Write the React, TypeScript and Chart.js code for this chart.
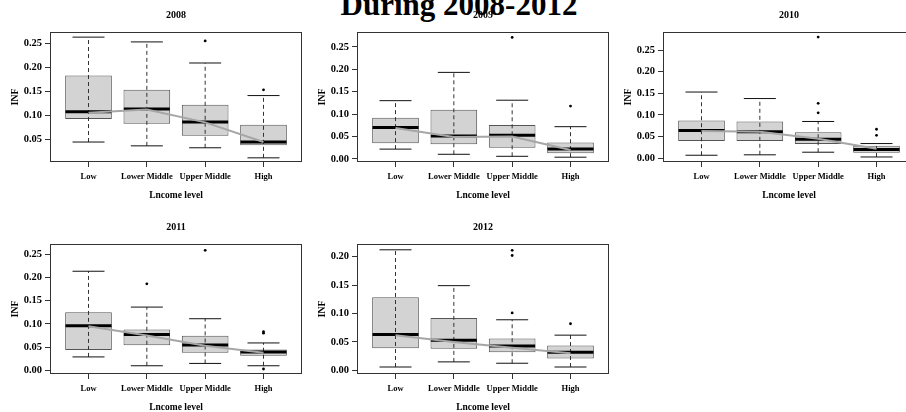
import React, { useEffect, useRef } from "react";
import { Chart, registerables } from "chart.js";
Chart.register(...registerables);

const FONT = "'Liberation Serif', 'Times New Roman', serif";

const categories = ["Low", "Lower Middle", "Upper Middle", "High"];
const mainTitle = "During 2008-2012";
const xTitle = "Lncome level";
const yTitle = "INF";

// 2008
const whiskerLow2008 = [0.044, 0.036, 0.032, 0.011];
const q1_2008 = [0.092, 0.082, 0.057, 0.0375];
const median2008 = [0.107, 0.113, 0.086, 0.044];
const q3_2008 = [0.183, 0.153, 0.122, 0.08];
const whiskerHigh2008 = [0.263, 0.253, 0.209, 0.141];
const trend2008 = [0.105, 0.112, 0.085, 0.044];
const outliers2008 = [[3, 0.255], [4, 0.153]];
const yTicks2008 = [0.05, 0.1, 0.15, 0.2, 0.25];

// 2009
const whiskerLow2009 = [0.022, 0.0105, 0.006, 0.004];
const q1_2009 = [0.035, 0.033, 0.025, 0.013];
const median2009 = [0.07, 0.051, 0.053, 0.022];
const q3_2009 = [0.092, 0.11, 0.076, 0.037];
const whiskerHigh2009 = [0.13, 0.193, 0.131, 0.072];
const trend2009 = [0.069, 0.049, 0.05, 0.02];
const outliers2009 = [[3, 0.271], [4, 0.118]];
const yTicks2009 = [0, 0.05, 0.1, 0.15, 0.2, 0.25];

// 2010
const whiskerLow2010 = [0.007, 0.008, 0.014, 0.003];
const q1_2010 = [0.04, 0.04, 0.033, 0.013];
const median2010 = [0.064, 0.061, 0.044, 0.02];
const q3_2010 = [0.0875, 0.085, 0.06, 0.029];
const whiskerHigh2010 = [0.153, 0.138, 0.085, 0.034];
const trend2010 = [0.063, 0.061, 0.045, 0.022];
const outliers2010 = [[3, 0.28], [3, 0.127], [3, 0.105], [4, 0.067], [4, 0.053]];
const yTicks2010 = [0, 0.05, 0.1, 0.15, 0.2, 0.25];

// 2011
const whiskerLow2011 = [0.029, 0.01, 0.015, 0.01];
const q1_2011 = [0.044, 0.054, 0.038, 0.0315];
const median2011 = [0.096, 0.077, 0.0545, 0.0395];
const q3_2011 = [0.125, 0.088, 0.0745, 0.045];
const whiskerHigh2011 = [0.213, 0.136, 0.111, 0.059];
const trend2011 = [0.095, 0.075, 0.053, 0.038];
const outliers2011 = [[2, 0.186], [3, 0.258], [4, 0.083], [4, 0.08], [4, 0.003]];
const yTicks2011 = [0, 0.05, 0.1, 0.15, 0.2, 0.25];

// 2012
const whiskerLow2012 = [0.006, 0.015, 0.0126, 0.006];
const q1_2012 = [0.039, 0.038, 0.032, 0.021];
const median2012 = [0.063, 0.053, 0.043, 0.032];
const q3_2012 = [0.1285, 0.092, 0.056, 0.044];
const whiskerHigh2012 = [0.212, 0.149, 0.089, 0.062];
const trend2012 = [0.062, 0.05, 0.04, 0.03];
const outliers2012 = [[3, 0.211], [3, 0.202], [3, 0.101], [4, 0.082]];
const yTicks2012 = [0, 0.05, 0.1, 0.15, 0.2];

type Panel = {
  year: string;
  lo: number[]; q1: number[]; med: number[]; q3: number[]; hi: number[];
  trend: number[]; outliers: number[][]; yTicks: number[];
  yMin: number; yMax: number; left: number; top: number;
};

const panels: Panel[] = [
  { year: "2008", lo: whiskerLow2008, q1: q1_2008, med: median2008, q3: q3_2008, hi: whiskerHigh2008, trend: trend2008, outliers: outliers2008, yTicks: yTicks2008, yMin: 0.0023, yMax: 0.2737, left: 0, top: 0 },
  { year: "2009", lo: whiskerLow2009, q1: q1_2009, med: median2009, q3: q3_2009, hi: whiskerHigh2009, trend: trend2009, outliers: outliers2009, yTicks: yTicks2009, yMin: -0.0067, yMax: 0.283, left: 307, top: 0 },
  { year: "2010", lo: whiskerLow2010, q1: q1_2010, med: median2010, q3: q3_2010, hi: whiskerHigh2010, trend: trend2010, outliers: outliers2010, yTicks: yTicks2010, yMin: -0.0086, yMax: 0.2917, left: 613, top: 0 },
  { year: "2011", lo: whiskerLow2011, q1: q1_2011, med: median2011, q3: q3_2011, hi: whiskerHigh2011, trend: trend2011, outliers: outliers2011, yTicks: yTicks2011, yMin: -0.0077, yMax: 0.2715, left: 0, top: 212 },
  { year: "2012", lo: whiskerLow2012, q1: q1_2012, med: median2012, q3: q3_2012, hi: whiskerHigh2012, trend: trend2012, outliers: outliers2012, yTicks: yTicks2012, yMin: -0.0063, yMax: 0.2222, left: 307, top: 212 },
];

const framePlugin = {
  id: "frame",
  afterDatasetsDraw(chart: any) {
    const { ctx, chartArea: a } = chart;
    ctx.save();
    ctx.strokeStyle = "#333";
    ctx.lineWidth = 1;
    ctx.strokeRect(Math.round(a.left) + 0.5, Math.round(a.top) + 0.5, Math.round(a.right - a.left) - 1, Math.round(a.bottom - a.top) - 1);
    ctx.restore();
  },
};

function PanelChart({ p }: { p: Panel }) {
  const ref = useRef<HTMLCanvasElement>(null);
  useEffect(() => {
    const xs = categories.map((_, i) => i + 1);
    const whiskers: any[] = [];
    xs.forEach((x, i) => {
      whiskers.push({ x, y: p.lo[i] }, { x, y: p.hi[i] }, { x, y: null });
    });
    const caps: any[] = [];
    xs.forEach((x, i) => {
      caps.push({ x, y: p.lo[i] }, { x, y: p.hi[i] });
    });
    const chart = new Chart(ref.current!, {
      type: "bar",
      data: {
        datasets: [
          {
            type: "bar",
            data: xs.map((x, i) => ({ x, y: [p.q1[i], p.q3[i]] })) as any,
            backgroundColor: "#d3d3d3",
            borderColor: "#555",
            borderWidth: 1,
            borderSkipped: false,
            barPercentage: 0.8,
            categoryPercentage: 1,
            order: 10,
          } as any,
          {
            type: "line",
            data: whiskers,
            borderColor: "#333",
            borderWidth: 1,
            borderDash: [4, 3],
            pointRadius: 0,
            spanGaps: false,
            fill: false,
            order: 8,
          } as any,
          {
            type: "line",
            data: caps,
            showLine: false,
            pointStyle: "line",
            pointRadius: 16,
            pointBorderWidth: 1,
            pointBorderColor: "#111",
            order: 7,
          } as any,
          {
            type: "line",
            data: xs.map((x, i) => ({ x, y: p.med[i] })),
            showLine: false,
            pointStyle: "line",
            pointRadius: 23,
            pointBorderWidth: 3,
            pointBorderColor: "#000",
            order: 5,
          } as any,
          {
            type: "line",
            data: xs.map((x, i) => ({ x, y: p.trend[i] })),
            borderColor: "#a6a6a6",
            borderWidth: 2,
            pointRadius: 0,
            fill: false,
            order: 3,
          } as any,
          {
            type: "line",
            data: p.outliers.map(([c, v]) => ({ x: c, y: v })),
            showLine: false,
            pointStyle: "circle",
            pointRadius: 1.4,
            pointBorderWidth: 0,
            pointBackgroundColor: "#000",
            order: 1,
          } as any,
        ],
      },
      options: {
        animation: false,
        responsive: false,
        devicePixelRatio: 1,
        layout: { autoPadding: false, padding: { left: 0, right: 4, top: 0, bottom: 0 } },
        plugins: {
          legend: { display: false },
          tooltip: { enabled: false },
          title: {
            display: true,
            text: p.year,
            fullSize: false,
            color: "#000",
            font: { family: FONT, size: 10, weight: "bold", lineHeight: 1.2 },
            padding: { top: 9, bottom: 11 },
          },
        },
        scales: {
          x: {
            type: "linear",
            min: 0.34,
            max: 4.66,
            offset: false,
            afterBuildTicks: (s: any) => {
              s.ticks = xs.map((v) => ({ value: v }));
            },
            afterFit: (s: any) => {
              s.height = 48;
            },
            grid: { display: true, drawOnChartArea: false, drawTicks: true, tickLength: 5, color: "#333", offset: false },
            border: { display: false },
            ticks: {
              autoSkip: false,
              maxRotation: 0,
              padding: 5,
              color: "#000",
              font: { family: FONT, size: 8.5, weight: "bold", lineHeight: 1.2 },
              callback: (v: any) => categories[Math.round(Number(v)) - 1] ?? "",
            },
            title: {
              display: true,
              text: xTitle,
              color: "#000",
              font: { family: FONT, size: 9.5, weight: "bold", lineHeight: 1.2 },
              padding: { top: 0, bottom: 8.8 },
            },
          },
          y: {
            type: "linear",
            min: p.yMin,
            max: p.yMax,
            afterBuildTicks: (s: any) => {
              s.ticks = p.yTicks.map((v) => ({ value: v }));
            },
            afterFit: (s: any) => {
              s.width = 50;
            },
            grid: { display: true, drawOnChartArea: false, drawTicks: true, tickLength: 5, color: "#333" },
            border: { display: false },
            ticks: {
              padding: 3,
              color: "#000",
              font: { family: FONT, size: 10.5, weight: "bold" },
              callback: (v: any) => Number(v).toFixed(2),
            },
            title: {
              display: true,
              text: yTitle,
              color: "#000",
              font: { family: FONT, size: 10, weight: "bold", lineHeight: 1.2 },
              padding: { top: 9, bottom: 9 },
            },
          },
        },
      } as any,
      plugins: [framePlugin],
    });
    return () => chart.destroy();
  }, [p]);
  return (
    <canvas
      ref={ref}
      width={306}
      height={210}
      style={{ position: "absolute", left: p.left, top: p.top, width: 306, height: 210 }}
    />
  );
}

export default function App() {
  return (
    <div style={{ position: "absolute", left: 0, top: 0, width: 906, height: 412, overflow: "hidden", background: "#fff" }}>
      <div
        style={{
          position: "absolute",
          left: 0,
          top: -11,
          width: 918,
          textAlign: "center",
          fontFamily: FONT,
          fontWeight: "bold",
          fontSize: 31,
          lineHeight: "31px",
          whiteSpace: "nowrap",
          color: "#000",
        }}
      >
        {mainTitle}
      </div>
      {panels.map((p) => (
        <PanelChart key={p.year} p={p} />
      ))}
    </div>
  );
}
